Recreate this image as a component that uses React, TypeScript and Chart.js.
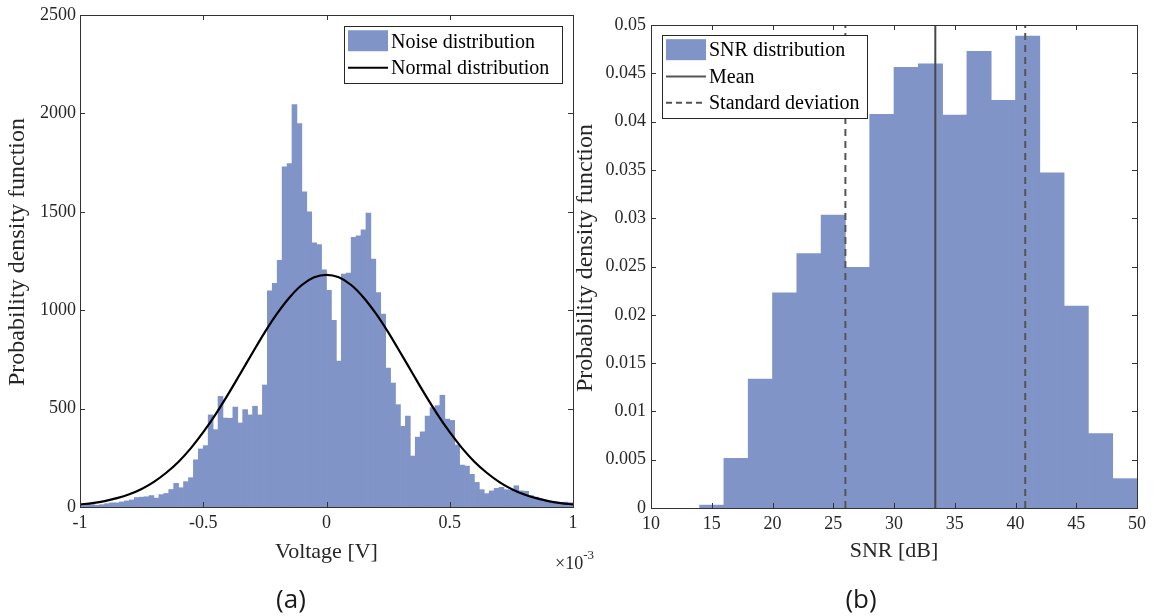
import React, { useEffect, useRef } from "react";
import { Chart, registerables } from "chart.js";
Chart.register(...registerables);

const FONT = "'Liberation Serif', 'Times New Roman', serif";
const TEXT = "#262626";
const AXIS = "#333333";
const BAR = "#8094C8";

// ---------- Panel (a): noise distribution (voltage in units of 1e-3 V) ----------
const noiseBinStart = -1;
const noiseBinWidth = 0.02;
const noiseCounts = [
  12, 15, 12, 9, 12, 17, 21, 21, 26, 31,
  36, 48, 50, 52, 58, 45, 63, 69, 89, 120,
  98, 129, 149, 240, 295, 312, 468, 393, 562, 452,
  451, 508, 427, 495, 468, 512, 468, 620, 1098, 1136,
  1253, 1728, 1745, 2045, 1948, 1601, 1500, 1342, 1333, 1205,
  1101, 949, 742, 1184, 1189, 1370, 1378, 1408, 1494, 1260,
  1090, 980, 706, 630, 520, 410, 462, 259, 355, 382,
  462, 505, 515, 568, 447, 440, 315, 213, 208, 166,
  125, 88, 68, 82, 95, 100, 88, 85, 108, 82,
  80, 58, 50, 40, 35, 28, 25, 22, 25, 22,
];
const normalX = [
  -1, -0.95, -0.9, -0.85, -0.8, -0.75, -0.7, -0.65, -0.6, -0.55,
  -0.5, -0.45, -0.4, -0.35, -0.3, -0.25, -0.2, -0.15, -0.1, -0.05,
  0, 0.05, 0.1, 0.15, 0.2, 0.25, 0.3, 0.35, 0.4, 0.45,
  0.5, 0.55, 0.6, 0.65, 0.7, 0.75, 0.8, 0.85, 0.9, 0.95, 1,
];
const normalPdf = [
  13, 20, 30, 45, 65, 92, 128, 174, 230, 299,
  380, 471, 571, 677, 784, 889, 984, 1065, 1128, 1167,
  1180, 1167, 1128, 1065, 984, 889, 784, 677, 571, 471,
  380, 299, 230, 174, 128, 92, 65, 45, 30, 20, 13,
];
const voltageTicks = [-1, -0.5, 0, 0.5, 1];
const countTicks = [0, 500, 1000, 1500, 2000, 2500];

// ---------- Panel (b): SNR distribution ----------
const snrBinStart = 14;
const snrBinWidth = 2;
const snrPdf = [
  0.0003, 0.00515, 0.01335, 0.02228, 0.02634, 0.03032, 0.02492, 0.04075, 0.04562,
  0.04598, 0.04067, 0.04728, 0.04221, 0.04886, 0.0347, 0.0209, 0.00771, 0.00304,
];
const snrMean = 33.4;
const snrStdLow = 26.0;
const snrStdHigh = 40.8;
const snrTicks = [10, 15, 20, 25, 30, 35, 40, 45, 50];
const pdfTicks = [0, 0.005, 0.01, 0.015, 0.02, 0.025, 0.03, 0.035, 0.04, 0.045, 0.05];

type LegendItem = { kind: "patch" | "line" | "dash"; label: string; color: string };

function makeFramePlugin(opts: {
  xTicks: number[];
  yTicks: number[];
  xTitle: string;
  xTitleY: number;
  yTitle: string;
  yTitleX: number;
  yTitleY: number;
  legend: { x: number; y: number; w: number; h: number; items: LegendItem[] };
  exponent?: { x: number; y: number };
}) {
  return {
    id: "frame",
    afterDatasetsDraw(chart: any) {
      const { ctx, chartArea: ca, scales } = chart;
      const xs = scales.x;
      const ys = scales.y;
      ctx.save();
      ctx.strokeStyle = AXIS;
      ctx.lineWidth = 1;
      ctx.strokeRect(Math.round(ca.left) + 0.5, Math.round(ca.top) + 0.5, Math.round(ca.right - ca.left), Math.round(ca.bottom - ca.top));
      const tl = 5;
      ctx.beginPath();
      for (const v of opts.xTicks) {
        const px = Math.round(xs.getPixelForValue(v)) + 0.5;
        ctx.moveTo(px, ca.bottom);
        ctx.lineTo(px, ca.bottom - tl);
        ctx.moveTo(px, ca.top);
        ctx.lineTo(px, ca.top + tl);
      }
      for (const v of opts.yTicks) {
        const py = Math.round(ys.getPixelForValue(v)) + 0.5;
        ctx.moveTo(ca.left, py);
        ctx.lineTo(ca.left + tl, py);
        ctx.moveTo(ca.right, py);
        ctx.lineTo(ca.right - tl, py);
      }
      ctx.stroke();
      ctx.restore();
    },
    afterDraw(chart: any) {
      const { ctx, chartArea: ca } = chart;
      ctx.save();
      ctx.fillStyle = TEXT;
      ctx.font = `22px ${FONT}`;
      ctx.textAlign = "center";
      ctx.textBaseline = "middle";
      ctx.fillText(opts.xTitle, (ca.left + ca.right) / 2, opts.xTitleY);
      ctx.save();
      ctx.font = `24px ${FONT}`;
      ctx.translate(opts.yTitleX, opts.yTitleY);
      ctx.rotate(-Math.PI / 2);
      ctx.fillText(opts.yTitle, 0, 0);
      ctx.restore();

      if (opts.exponent) {
        ctx.textAlign = "left";
        ctx.font = `18px ${FONT}`;
        ctx.fillText("\u00d710", opts.exponent.x, opts.exponent.y);
        const w = ctx.measureText("\u00d710").width;
        ctx.font = `13px ${FONT}`;
        ctx.fillText("-3", opts.exponent.x + w, opts.exponent.y - 8);
      }

      const lg = opts.legend;
      ctx.fillStyle = "#ffffff";
      ctx.fillRect(lg.x, lg.y, lg.w, lg.h);
      ctx.strokeStyle = TEXT;
      ctx.lineWidth = 1;
      ctx.strokeRect(lg.x + 0.5, lg.y + 0.5, lg.w, lg.h);
      const rowH = (lg.h - 4) / lg.items.length;
      ctx.font = `20px ${FONT}`;
      ctx.textAlign = "left";
      ctx.textBaseline = "middle";
      lg.items.forEach((it, i) => {
        const cy = lg.y + 2 + rowH * (i + 0.5);
        const sx = lg.x + 4;
        const sw = 40;
        if (it.kind === "patch") {
          ctx.fillStyle = it.color;
          ctx.fillRect(sx, cy - 11, sw, 21);
        } else {
          ctx.strokeStyle = it.color;
          ctx.lineWidth = 2;
          ctx.setLineDash(it.kind === "dash" ? [6, 4] : []);
          ctx.beginPath();
          ctx.moveTo(sx, cy);
          ctx.lineTo(sx + sw, cy);
          ctx.stroke();
          ctx.setLineDash([]);
        }
        ctx.fillStyle = "#000";
        ctx.fillText(it.label, sx + sw + 3, cy + 1);
      });
      ctx.restore();
    },
  };
}

function fmt(v: number) {
  return String(Number(v.toFixed(4)));
}

function ChartCanvas({ config, width, height, left }: any) {
  const ref = useRef<HTMLCanvasElement | null>(null);
  useEffect(() => {
    if (!ref.current) return;
    const chart = new Chart(ref.current, config());
    return () => chart.destroy();
  }, []);
  return (
    <canvas
      ref={ref}
      width={width}
      height={height}
      style={{ position: "absolute", left, top: 0, width, height }}
    />
  );
}

const tickFont = { family: FONT, size: 18 };

function configA() {
  return {
    type: "bar",
    data: {
      datasets: [
        {
          type: "line",
          label: "Normal distribution",
          data: normalX.map((x, i) => ({ x, y: normalPdf[i] })),
          borderColor: "#000000",
          borderWidth: 2.2,
          pointRadius: 0,
          cubicInterpolationMode: "monotone",
          order: 0,
        },
        {
          type: "bar",
          label: "Noise distribution",
          data: noiseCounts.map((c, i) => ({ x: noiseBinStart + noiseBinWidth * (i + 0.5), y: c })),
          backgroundColor: BAR,
          borderWidth: 0,
          barPercentage: 1,
          categoryPercentage: 1,
          order: 1,
        },
      ],
    },
    options: {
      responsive: false,
      animation: false,
      events: [],
      layout: { padding: { top: 15, right: 27, left: 0, bottom: 0 } },
      plugins: { legend: { display: false }, tooltip: { enabled: false } },
      scales: {
        x: {
          type: "linear",
          min: -1,
          max: 1,
          offset: false,
          grid: { display: false, drawTicks: false },
          border: { display: false },
          ticks: { font: tickFont, color: TEXT, padding: 5, autoSkip: false, maxRotation: 0, callback: (v: number) => fmt(v) },
          afterBuildTicks: (s: any) => { s.ticks = voltageTicks.map((v) => ({ value: v })); },
          afterFit: (s: any) => { s.height = 109; },
        },
        y: {
          type: "linear",
          min: 0,
          max: 2500,
          grid: { display: false, drawTicks: false },
          border: { display: false },
          ticks: { font: tickFont, color: TEXT, padding: 4, autoSkip: false, callback: (v: number) => fmt(v) },
          afterBuildTicks: (s: any) => { s.ticks = countTicks.map((v) => ({ value: v })); },
          afterFit: (s: any) => { s.width = 80; },
        },
      },
    },
    plugins: [
      makeFramePlugin({
        xTicks: voltageTicks,
        yTicks: countTicks,
        xTitle: "Voltage [V]",
        xTitleY: 552,
        yTitle: "Probability density function",
        yTitleX: 18,
        yTitleY: 252,
        legend: {
          x: 344,
          y: 26,
          w: 218,
          h: 57,
          items: [
            { kind: "patch", label: "Noise distribution", color: BAR },
            { kind: "line", label: "Normal distribution", color: "#000000" },
          ],
        },
        exponent: { x: 555, y: 564 },
      }),
    ],
  };
}

const OFFB = 560;

function configB() {
  return {
    type: "bar",
    data: {
      datasets: [
        {
          type: "line",
          label: "Mean",
          data: [{ x: snrMean, y: 0 }, { x: snrMean, y: 0.05 }],
          borderColor: "#474747",
          borderWidth: 2,
          pointRadius: 0,
          order: 0,
        },
        {
          type: "line",
          label: "Standard deviation",
          data: [{ x: snrStdLow, y: 0 }, { x: snrStdLow, y: 0.05 }],
          borderColor: "#555555",
          borderWidth: 2,
          borderDash: [7, 5],
          pointRadius: 0,
          order: 0,
        },
        {
          type: "line",
          label: "Standard deviation ",
          data: [{ x: snrStdHigh, y: 0 }, { x: snrStdHigh, y: 0.05 }],
          borderColor: "#555555",
          borderWidth: 2,
          borderDash: [7, 5],
          pointRadius: 0,
          order: 0,
        },
        {
          type: "bar",
          label: "SNR distribution",
          data: snrPdf.map((p, i) => ({ x: snrBinStart + snrBinWidth * (i + 0.5), y: p })),
          backgroundColor: BAR,
          borderWidth: 0,
          barPercentage: 1,
          categoryPercentage: 1,
          order: 1,
        },
      ],
    },
    options: {
      responsive: false,
      animation: false,
      events: [],
      layout: { padding: { top: 25, right: 19, left: 0, bottom: 0 } },
      plugins: { legend: { display: false }, tooltip: { enabled: false } },
      scales: {
        x: {
          type: "linear",
          min: 10,
          max: 50,
          offset: false,
          grid: { display: false, drawTicks: false },
          border: { display: false },
          ticks: { font: tickFont, color: TEXT, padding: 5, autoSkip: false, maxRotation: 0, callback: (v: number) => fmt(v) },
          afterBuildTicks: (s: any) => { s.ticks = snrTicks.map((v) => ({ value: v })); },
          afterFit: (s: any) => { s.height = 108; },
        },
        y: {
          type: "linear",
          min: 0,
          max: 0.05,
          grid: { display: false, drawTicks: false },
          border: { display: false },
          ticks: { font: tickFont, color: TEXT, padding: 5, autoSkip: false, callback: (v: number) => fmt(v) },
          afterBuildTicks: (s: any) => { s.ticks = pdfTicks.map((v) => ({ value: v })); },
          afterFit: (s: any) => { s.width = 651 - OFFB; },
        },
      },
    },
    plugins: [
      makeFramePlugin({
        xTicks: snrTicks,
        yTicks: pdfTicks,
        xTitle: "SNR [dB]",
        xTitleY: 551,
        yTitle: "Probability density function",
        yTitleX: 586 - OFFB,
        yTitleY: 258,
        legend: {
          x: 662 - OFFB,
          y: 35,
          w: 205,
          h: 83,
          items: [
            { kind: "patch", label: "SNR distribution", color: BAR },
            { kind: "line", label: "Mean", color: "#555555" },
            { kind: "dash", label: "Standard deviation", color: "#555555" },
          ],
        },
      }),
    ],
  };
}

export default function App() {
  const capStyle: any = {
    position: "absolute",
    top: 598,
    transform: "translate(-50%, -50%)",
    fontFamily: "'Open Sans', 'Noto Sans', sans-serif",
    fontSize: 26,
    color: "#1a1a1a",
    lineHeight: 1,
    whiteSpace: "nowrap",
  };
  return (
    <div style={{ position: "absolute", left: 0, top: 0, width: 1156, height: 616, background: "#ffffff", overflow: "hidden" }}>
      <ChartCanvas config={configA} width={600} height={616} left={0} />
      <ChartCanvas config={configB} width={1156 - OFFB} height={616} left={OFFB} />
      <div style={{ ...capStyle, left: 291 }}>(a)</div>
      <div style={{ ...capStyle, left: 861 }}>(b)</div>
    </div>
  );
}
